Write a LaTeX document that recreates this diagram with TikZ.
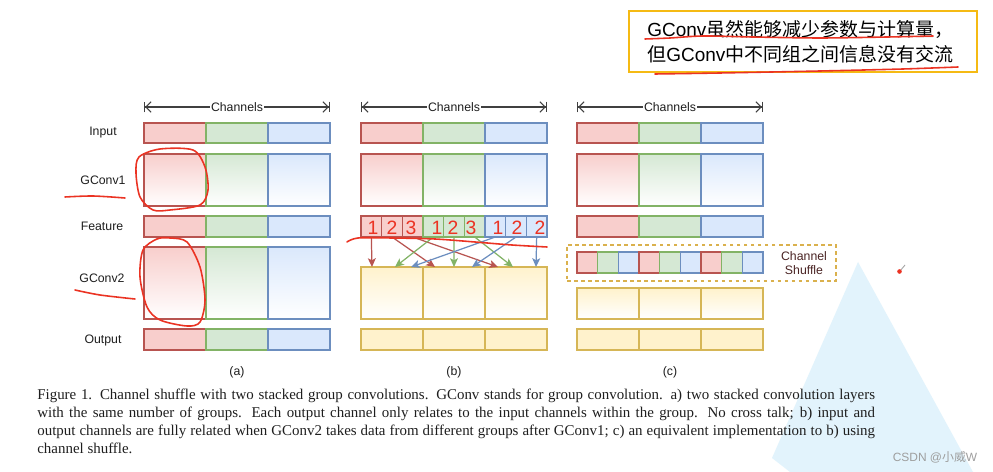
\documentclass[tikz,border=0pt]{standalone}
\usepackage{fontspec}
\setmainfont{Liberation Serif}
\setsansfont{Liberation Sans}
\newfontfamily\cjk{Noto Sans CJK SC}
\usepackage{tikz}
\usetikzlibrary{arrows.meta,positioning}
\definecolor{RFill}{HTML}{F8CECC}
\definecolor{RLine}{HTML}{B85450}
\definecolor{GFill}{HTML}{D5E8D4}
\definecolor{GLine}{HTML}{82B366}
\definecolor{BFill}{HTML}{DAE8FC}
\definecolor{BLine}{HTML}{6C8EBF}
\definecolor{YFill}{HTML}{FFF2CC}
\definecolor{YLine}{HTML}{D6B656}
\definecolor{Ink}{HTML}{1E1E1E}
\definecolor{Pen}{HTML}{EB3323}
\definecolor{Gold}{HTML}{F5BA14}
\definecolor{Maroon}{HTML}{4A2424}
\definecolor{TriBlue}{HTML}{E2F3FC}
\newcommand{\gc}{{\sffamily GConv}}

\begin{document}
\begin{tikzpicture}[x=0.02cm,y=-0.02cm,
  cell/.style={rectangle,inner sep=0pt,outer sep=0pt,line width=0.7pt,minimum width=1.24cm},
  sub/.style={cell,minimum width=0.4133cm,minimum height=0.42cm},
  Rcell/.style={draw=RLine,fill=RFill},
  Gcell/.style={draw=GLine,fill=GFill},
  Bcell/.style={draw=BLine,fill=BFill},
  Ycell/.style={draw=YLine,fill=YFill},
  Rgrad/.style={draw=RLine,top color=RFill,bottom color=white},
  Ggrad/.style={draw=GLine,top color=GFill,bottom color=white},
  Bgrad/.style={draw=BLine,top color=BFill,bottom color=white},
  Ygrad/.style={draw=YLine,top color=YFill,bottom color=white},
  Rarrow/.style={draw=RLine,line width=0.7pt,-{Stealth[length=5pt,width=4.5pt,inset=1.2pt]}},
  Garrow/.style={draw=GLine,line width=0.7pt,-{Stealth[length=5pt,width=4.5pt,inset=1.2pt]}},
  Barrow/.style={draw=BLine,line width=0.7pt,-{Stealth[length=5pt,width=4.5pt,inset=1.2pt]}},
  rowlabel/.style={font=\sffamily\fontsize{7}{8}\selectfont,text=Ink},
  chan/.style={draw=Ink!85,line width=0.6pt,{Bar[width=6pt]Straight Barb[length=3pt,width=6pt]}-{Straight Barb[length=3pt,width=6pt]Bar[width=6pt]}},
  pen/.style={draw=Pen,line width=0.9pt,line cap=round,line join=round},
  digit/.style={font=\sffamily\fontsize{11}{11}\selectfont,text=Pen,inner sep=0pt}
]
\fill[white] (0,0) rectangle (993,472);
\useasboundingbox (0,0) rectangle (993,472);
% pale blue overlay in the corner
\fill[TriBlue] (858,262) -- (973,472) -- (790,472) -- (772,458) -- cycle;

% top note
\draw[Gold,line width=1.2pt] (629,11) rectangle (977,72);
\node[font=\cjk\fontsize{10.8}{14.2}\selectfont,align=left,anchor=west,inner sep=0pt] (note) at (647,42)
  {\gc 虽然能够减少参数与计算量，\\但\gc 中不同组之间信息没有交流};

% row labels
\node[rowlabel] (lin) at (103,133) {Input};
\node[rowlabel] (lg1) at (103,180) {GConv1};
\node[rowlabel] (lft) at (102,226.5) {Feature};
\node[rowlabel] (lg2) at (102,278) {GConv2};
\node[rowlabel] (lout) at (103,340) {Output};

% channel arrows, input and GConv1 rows
\foreach \p/\x in {a/144,b/361,c/577} {
  \coordinate (cl\p) at (\x,107);
  \coordinate (cr\p) at (\x+186,107);
  \draw[chan] (cl\p) -- (cr\p);
  \node[rowlabel,fill=white,inner xsep=0.6pt,inner ysep=1pt] (ch\p) at (\x+93,107) {Channels};
  \foreach \g/\c in {1/R,2/G,3/B} {
    \node[cell,\c cell,minimum height=0.4cm] (in\p\g) at ({\x+(\g-0.5)*62},133) {};
    \node[cell,\c grad,minimum height=1.04cm] (ga\p\g) at ({\x+(\g-0.5)*62},180) {};
  }
}

% (a)
\foreach \g/\c in {1/R,2/G,3/B} {
  \node[cell,\c cell,minimum height=0.42cm] (fta\g) at ({144+(\g-0.5)*62},226.5) {};
  \node[cell,\c grad,minimum height=1.44cm] (gba\g) at ({144+(\g-0.5)*62},283) {};
  \node[cell,\c cell,minimum height=0.42cm] (outa\g) at ({144+(\g-0.5)*62},339.5) {};
}

% (b)
\foreach \i/\c in {1/R,2/R,3/R,4/G,5/G,6/G,7/B,8/B,9/B} {
  \node[sub,\c cell] (fb\i) at ({361+(\i-0.5)*20.667},226.5) {};
}
\foreach \g in {1,2,3} {
  \node[cell,Ygrad,minimum height=1.04cm] (gbb\g) at ({361+(\g-0.5)*62},293) {};
  \node[cell,Ycell,minimum height=0.42cm] (outb\g) at ({361+(\g-0.5)*62},339.5) {};
}
\foreach \i/\tx in {1/372,2/435,3/498,4/395,5/454,6/513,7/411,8/472,9/536} {
  \coordinate (tb\i) at (\tx,267);
}
\foreach \i/\c in {1/R,2/R,3/R,4/G,5/G,6/G,7/B,8/B,9/B} {
  \draw[\c arrow] (fb\i.south) -- (tb\i);
}

% (c)
\foreach \g/\c in {1/R,2/G,3/B} {
  \node[cell,\c cell,minimum height=0.42cm] (ftc\g) at ({577+(\g-0.5)*62},226.5) {};
}
\foreach \i/\c in {1/R,2/G,3/B,4/R,5/G,6/B,7/R,8/G,9/B} {
  \node[sub,\c cell] (sh\i) at ({577+(\i-0.5)*20.667},262.5) {};
}
\foreach \g in {1,2,3} {
  \node[cell,Ygrad,minimum height=0.62cm] (gbc\g) at ({577+(\g-0.5)*62},303.5) {};
  \node[cell,Ycell,minimum height=0.42cm] (outc\g) at ({577+(\g-0.5)*62},339.5) {};
}
\node[draw=YLine!90!orange,line width=0.9pt,dash pattern=on 2pt off 2pt,minimum width=5.38cm,minimum height=0.72cm,inner sep=0pt] (shuf) at (701.5,263) {};
\node[rowlabel,text=Maroon,align=center] (shlab) at (804,263) {Channel\\Shuffle};

% panel tags
\node[rowlabel] (taga) at (237,372) {(a)};
\node[rowlabel] (tagb) at (454,372) {(b)};
\node[rowlabel] (tagc) at (670,372) {(c)};

% caption
\node[anchor=north west,inner sep=0pt,text width=476.8pt,align=justify,text=Ink,
  font=\fontsize{8.5}{10.2}\selectfont] (cap) at (37,389)
  {Figure 1. Channel shuffle with two stacked group convolutions. GConv stands for group convolution. a) two stacked convolution layers\linebreak
   with the same number of groups. Each output channel only relates to the input channels within the group. No cross talk; b) input and\linebreak
   output channels are fully related when GConv2 takes data from different groups after GConv1; c) an equivalent implementation to b) using\linebreak
   channel shuffle.};

\node[font=\fontsize{6.8}{8}\selectfont,text=black!38,inner sep=0pt] (mark) at (935,457) {\sffamily CSDN @\cjk 小威\sffamily W};

% hand-drawn red notes
\draw[pen] plot[smooth] coordinates {(645,39) (670,38) (703,36) (753,37) (820,38) (887,37) (933,36)};
\draw[pen] plot[smooth] coordinates {(655,74) (720,73) (820,71) (903,69) (958,67)};
\draw[pen] plot[smooth cycle] coordinates {(160,149) (193,150) (205,167) (208,190) (200,205) (170,210) (153,210) (140,197) (136,173) (139,157)};
\draw[pen] plot[smooth cycle] coordinates {(170,238) (187,242) (200,267) (205,300) (200,322) (187,326) (160,320) (147,307) (140,277) (143,250) (157,239)};
\draw[pen] plot[smooth] coordinates {(65,197) (93,196) (125,198)};
\draw[pen] plot[smooth] coordinates {(75,290) (100,295) (135,299)};
\draw[pen] plot[smooth] coordinates {(347,242) (358,238) (392,238) (435,239) (475,242) (512,245) (547,247)};
\foreach \i/\d/\dx in {1/1/373,2/2/392,3/3/411,4/1/437,5/2/453,6/3/471,7/1/498,8/2/517,9/2/540} {
  \node[digit] (hd\i) at (\dx,227.5) {\d};
}
% cursor
\draw[black!35,line width=0.5pt] (900,271) -- (905,265);
\fill[Pen] (899.5,271.5) circle[radius=1.3pt];
\end{tikzpicture}
\end{document}
